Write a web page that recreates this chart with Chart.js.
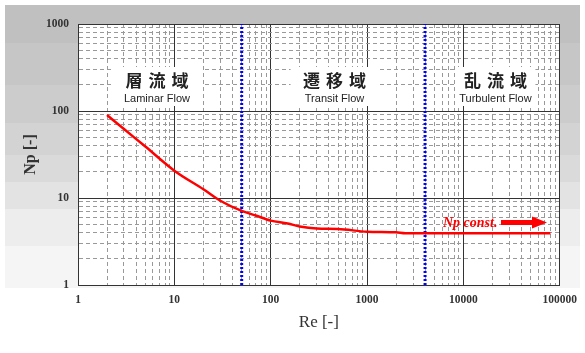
<!DOCTYPE html>
<html>
<head>
<meta charset="utf-8">
<title>Np - Re</title>
<script src="https://cdn.jsdelivr.net/npm/chart.js@4.4.1/dist/chart.umd.min.js"></script>
<style>
  html, body { margin: 0; padding: 0; background: #fff; }
  #wrap { width: 585px; height: 353px; }
</style>
</head>
<body>
<div id="wrap"><canvas id="np"></canvas></div>
<script>
// data
var reValues = [2, 3, 5, 10, 20, 30, 50, 70, 100, 150, 200, 300, 500, 1000, 2000, 2500, 10000, 80000];
var npValues = [90, 62, 39, 20.6, 12.6, 9.3, 7.1, 6.3, 5.5, 5.1, 4.7, 4.45, 4.4, 4.1, 4.03, 3.93, 3.93, 3.93];
var boundaryRe = [50, 4000];
var xTickLabels = [1, 10, 100, 1000, 10000, 100000];
var yTickLabels = [1, 10, 100, 1000];
var regionNames = ['層流域', '遷移域', '乱流域'];
var regionSubs = ['Laminar Flow', 'Transit Flow', 'Turbulent Flow'];
var regionCenterRe = [6.6, 460, 21500];

function logTicks(lo, hi) {
    var out = [];
    for (var e = Math.log10(lo); e < Math.log10(hi); e++) {
        for (var s = 1; s < 10; s++) out.push({value: s * Math.pow(10, e)});
    }
    out.push({value: hi});
    return out;
}
function isDecade(v) {
    var l = Math.log10(v);
    return Math.abs(l - Math.round(l)) < 1e-9;
}

var curve = reValues.map(function (r, i) { return {x: r, y: npValues[i]}; });
var datasets = [{
    data: curve,
    borderColor: '#ff0000',
    borderWidth: 2.5,
    pointRadius: 0,
    cubicInterpolationMode: 'monotone'
}];
boundaryRe.forEach(function (r) {
    datasets.push({
        data: [{x: r, y: yTickLabels[0]}, {x: r, y: yTickLabels[yTickLabels.length - 1]}],
        borderColor: '#0000ff',
        borderWidth: 3,
        borderDash: [2, 2],
        pointRadius: 0
    });
});

// gray bands behind the plot, lighter toward the bottom
var bandEdges = [5, 43, 85, 123, 155, 182, 209, 246, 288];
var bandColors = ['#c0c0c0', '#c6c6c6', '#cccccc', '#d3d3d3', '#dadada', '#e3e3e3', '#ededed', '#f5f5f5'];

var decor = {
    id: 'decor',
    beforeDraw: function (chart) {
        var c = chart.ctx, a = chart.chartArea;
        c.save();
        for (var i = 0; i < bandColors.length; i++) {
            c.fillStyle = bandColors[i];
            c.fillRect(5, bandEdges[i], 575, bandEdges[i + 1] - bandEdges[i]);
        }
        c.fillStyle = '#ffffff';
        c.fillRect(a.left, a.top, a.right - a.left, a.bottom - a.top);
        c.restore();
    },
    beforeDatasetsDraw: function (chart) {
        var c = chart.ctx, xs = chart.scales.x;
        var boxW = [92, 88, 80];
        c.save();
        regionNames.forEach(function (name, i) {
            var cx = xs.getPixelForValue(regionCenterRe[i]);
            c.fillStyle = '#ffffff';
            c.fillRect(cx - boxW[i] / 2, 67, boxW[i], 39);
            c.fillStyle = '#222';
            c.textAlign = 'center';
            c.textBaseline = 'middle';
            c.font = 'bold 17px "Noto Sans CJK JP"';
            for (var k = 0; k < name.length; k++) {
                c.fillText(name[k], cx + (k - 1) * 23, 81);
            }
            c.font = '11px "Liberation Sans"';
            c.fillText(regionSubs[i], cx, 99);
        });
        c.restore();
    },
    afterDatasetsDraw: function (chart) {
        var c = chart.ctx;
        c.save();
        c.fillStyle = '#ff0000';
        c.font = 'bold italic 14px "Liberation Serif"';
        c.textAlign = 'left';
        c.textBaseline = 'middle';
        c.fillText('Np const.', 443, 223);
        c.fillRect(501, 220, 34, 5);
        c.beginPath();
        c.moveTo(532, 216.5);
        c.lineTo(547, 222.5);
        c.lineTo(532, 228.5);
        c.closePath();
        c.fill();
        c.restore();
    }
};

var tickFont = {family: '"Liberation Serif"', size: 11.5, weight: 'bold'};

new Chart(document.getElementById('np'), {
    type: 'line',
    data: {datasets: datasets},
    options: {
        animation: false,
        responsive: true,
        maintainAspectRatio: false,
        layout: {padding: {top: 24, right: 24, left: 0, bottom: 0}},
        plugins: {legend: {display: false}, tooltip: {enabled: false}},
        scales: {
            x: {
                type: 'logarithmic',
                min: xTickLabels[0],
                max: xTickLabels[xTickLabels.length - 1],
                afterBuildTicks: function (s) { s.ticks = logTicks(s.min, s.max); },
                afterFit: function (s) { s.height = 68; },
                ticks: {
                    autoSkip: false, maxRotation: 0, padding: 8,
                    color: '#333', font: tickFont,
                    callback: function (v) { return xTickLabels.indexOf(v) >= 0 ? String(v) : ''; }
                },
                grid: {
                    drawTicks: false,
                    color: function (ctx) { return isDecade(ctx.tick.value) ? '#333' : '#999'; },
                    lineWidth: 1
                },
                border: {
                    color: '#333',
                    dash: function (ctx) { return ctx.tick && !isDecade(ctx.tick.value) ? [4, 3] : []; }
                },
                title: {
                    display: true, text: 'Re [-]', color: '#333',
                    font: {family: '"Liberation Serif"', size: 17},
                    padding: {top: 0, bottom: 20}
                }
            },
            y: {
                type: 'logarithmic',
                min: yTickLabels[0],
                max: yTickLabels[yTickLabels.length - 1],
                afterBuildTicks: function (s) { s.ticks = logTicks(s.min, s.max); },
                afterFit: function (s) { s.width = 78; },
                ticks: {
                    autoSkip: false, padding: 9,
                    color: '#333', font: tickFont,
                    callback: function (v) { return yTickLabels.indexOf(v) >= 0 ? String(v) : ''; }
                },
                grid: {
                    drawTicks: false,
                    color: function (ctx) { return isDecade(ctx.tick.value) ? '#333' : '#999'; },
                    lineWidth: 1
                },
                border: {
                    color: '#333',
                    dash: function (ctx) { return ctx.tick && !isDecade(ctx.tick.value) ? [4, 3] : []; }
                },
                title: {
                    display: true, text: 'Np [-]', color: '#333',
                    font: {family: '"Liberation Serif"', size: 16, weight: 'bold'},
                    padding: {top: 21, bottom: 0}
                }
            }
        }
    },
    plugins: [decor]
});
</script>
</body>
</html>
